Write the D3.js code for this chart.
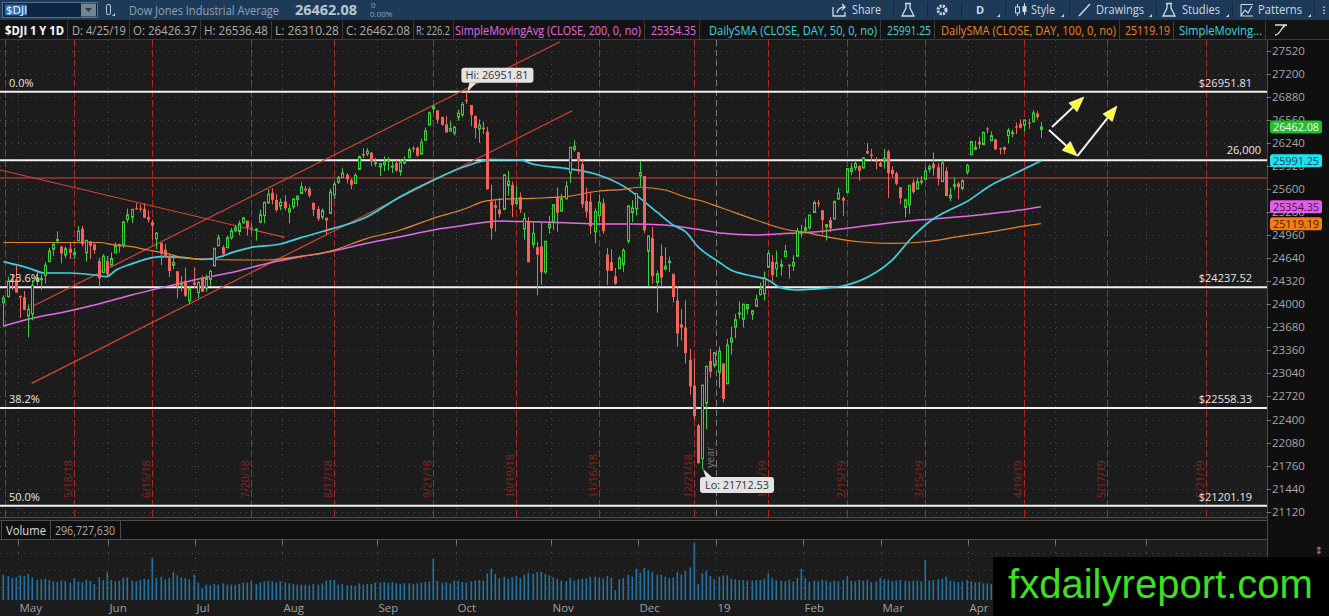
<!DOCTYPE html>
<html>
<head>
<meta charset="utf-8">
<title>$DJI 1 Y 1D</title>
<script src="https://cdn.jsdelivr.net/npm/d3@7/dist/d3.min.js"></script>
<style>
  html, body { margin: 0; padding: 0; background: #1d1d1d; overflow: hidden; }
  svg { display: block; font-family: "Open Sans", "DejaVu Sans", sans-serif; }
</style>
</head>
<body>
<svg id="chart" width="1329" height="616"></svg>
<script>
'use strict';

// ---------- data ----------
// date, open, high, low, close
const candles = [
  ['4/25/18',24024,24122,23680,24084],['4/26/18',24107,24380,24088,24322],['4/27/18',24343,24415,24199,24311],['4/30/18',24347,24540,24164,24163],
  ['5/1/18',24117,24117,23808,24099],['5/2/18',24097,24186,23916,23925],['5/3/18',23836,23996,23540,23930],['5/4/18',23866,24333,23778,24263],
  ['5/7/18',24317,24480,24263,24357],['5/8/18',24341,24412,24198,24360],['5/9/18',24399,24586,24288,24543],['5/10/18',24591,24784,24591,24740],
  ['5/11/18',24761,24850,24672,24831],['5/14/18',24885,25012,24842,24899],['5/15/18',24800,24810,24569,24706],['5/16/18',24683,24803,24645,24769],
  ['5/17/18',24770,24860,24627,24714],['5/18/18',24690,24779,24628,24715],['5/21/18',24883,25086,24883,25013],['5/22/18',25048,25086,24800,24834],
  ['5/23/18',24713,24894,24590,24887],['5/24/18',24876,24878,24626,24812],['5/25/18',24832,24842,24700,24753],['5/29/18',24600,24646,24241,24361],
  ['5/30/18',24440,24695,24440,24668],['5/31/18',24603,24669,24387,24416],
  ['6/1/18',24542,24720,24542,24635],['6/4/18',24714,24857,24714,24814],['6/5/18',24832,24843,24718,24800],['6/6/18',24828,25147,24780,25146],
  ['6/7/18',25176,25327,25131,25241],['6/8/18',25207,25317,25126,25317],['6/11/18',25332,25402,25309,25322],['6/12/18',25330,25384,25284,25321],
  ['6/13/18',25323,25400,25195,25201],['6/14/18',25213,25306,25133,25175],['6/15/18',25140,25175,24889,25090],['6/18/18',24910,25003,24763,24987],
  ['6/19/18',24853,24853,24544,24700],['6/20/18',24757,24836,24642,24658],['6/21/18',24663,24704,24379,24462],['6/22/18',24542,24674,24484,24581],
  ['6/25/18',24458,24459,24084,24253],['6/26/18',24278,24394,24178,24283],['6/27/18',24325,24509,24101,24118],['6/28/18',24047,24240,23997,24216],
  ['6/29/18',24302,24510,24223,24271],
  ['7/2/18',24161,24308,24083,24307],['7/3/18',24362,24398,24167,24175],['7/5/18',24221,24414,24175,24357],['7/6/18',24345,24480,24256,24456],
  ['7/9/18',24532,24786,24532,24777],['7/10/18',24811,24968,24811,24920],['7/11/18',24793,24818,24660,24700],['7/12/18',24784,24952,24784,24925],
  ['7/13/18',24924,25058,24896,25019],['7/16/18',25023,25099,24999,25064],['7/17/18',25010,25163,24957,25120],['7/18/18',25130,25213,25121,25199],
  ['7/19/18',25160,25160,24954,25065],['7/20/18',25066,25127,24985,25058],['7/23/18',25029,25059,24885,25044],['7/24/18',25141,25315,25126,25242],
  ['7/25/18',25231,25427,25123,25414],['7/26/18',25405,25593,25399,25527],['7/27/18',25546,25611,25386,25451],['7/30/18',25448,25529,25286,25307],
  ['7/31/18',25362,25468,25305,25415],
  ['8/1/18',25426,25515,25303,25334],['8/2/18',25281,25386,25123,25326],['8/3/18',25355,25463,25322,25463],['8/6/18',25456,25506,25356,25502],
  ['8/7/18',25538,25692,25538,25629],['8/8/18',25605,25645,25553,25584],['8/9/18',25603,25631,25480,25509],['8/10/18',25409,25409,25225,25313],
  ['8/13/18',25323,25364,25157,25188],['8/14/18',25210,25329,25175,25300],['8/15/18',25201,25201,24966,25162],['8/16/18',25262,25605,25262,25559],
  ['8/17/18',25520,25708,25460,25669],['8/20/18',25697,25781,25669,25759],['8/21/18',25758,25888,25758,25822],['8/22/18',25799,25819,25677,25734],
  ['8/23/18',25723,25744,25596,25657],['8/24/18',25676,25820,25676,25790],['8/27/18',25871,26064,25871,26050],['8/28/18',26087,26167,26031,26064],
  ['8/29/18',26088,26167,26054,26125],['8/30/18',26103,26116,25919,25987],['8/31/18',25958,26031,25912,25965],
  ['9/4/18',25906,25960,25781,25952],['9/5/18',25936,26055,25846,25975],['9/6/18',25993,26044,25857,25996],['9/7/18',25903,25994,25821,25917],
  ['9/10/18',25959,26004,25836,25857],['9/11/18',25843,26012,25783,25971],['9/12/18',25960,26052,25941,25999],['9/13/18',26036,26175,26036,26146],
  ['9/14/18',26167,26196,26111,26155],['9/17/18',26172,26189,26048,26062],['9/18/18',26084,26297,26084,26247],['9/19/18',26277,26453,26277,26406],
  ['9/20/18',26487,26676,26487,26657],['9/21/18',26715,26770,26657,26744],['9/24/18',26692,26692,26507,26562],['9/25/18',26599,26603,26479,26492],
  ['9/26/18',26498,26611,26386,26385],['9/27/18',26405,26541,26400,26440],['9/28/18',26378,26475,26346,26458],
  ['10/1/18',26598,26700,26546,26651],['10/2/18',26630,26806,26602,26774],['10/3/18',26833,26951.81,26782,26828],['10/4/18',26766,26766,26471,26627],
  ['10/5/18',26613,26620,26303,26447],['10/8/18',26434,26567,26239,26487],['10/9/18',26452,26537,26363,26431],['10/10/18',26396,26461,25594,25599],
  ['10/11/18',25425,25658,24899,25053],['10/12/18',25374,25441,25010,25340],['10/15/18',25313,25477,25205,25251],['10/16/18',25318,25802,25318,25798],
  ['10/17/18',25650,25852,25509,25707],['10/18/18',25655,25705,25212,25379],['10/19/18',25400,25641,25373,25444],['10/22/18',25490,25551,25268,25317],
  ['10/23/18',25045,25271,24897,25191],['10/24/18',25153,25211,24582,24583],['10/25/18',24832,25134,24774,24985],['10/26/18',24791,24865,24123,24688],
  ['10/29/18',24804,25130,24268,24443],['10/30/18',24447,24877,24419,24875],['10/31/18',25061,25228,24978,25116],
  ['11/1/18',25142,25384,25029,25381],['11/2/18',25485,25620,25008,25271],['11/5/18',25294,25536,25286,25462],['11/6/18',25462,25709,25462,25635],
  ['11/7/18',25823,26181,25686,26180],['11/8/18',26150,26278,26118,26191],['11/9/18',26109,26117,25805,25989],['11/12/18',25944,26006,25335,25387],
  ['11/13/18',25434,25620,25201,25286],['11/14/18',25425,25563,24976,25081],['11/15/18',25005,25331,24848,25289],['11/16/18',25231,25519,25152,25413],
  ['11/19/18',25402,25467,24979,25017],['11/20/18',24689,24781,24269,24466],['11/21/18',24585,24762,24461,24465],['11/23/18',24386,24504,24272,24286],
  ['11/26/18',24495,24674,24491,24640],['11/27/18',24552,24776,24450,24749],['11/28/18',24875,25367,24847,25366],['11/29/18',25274,25444,25141,25339],
  ['11/30/18',25324,25539,25233,25538],
  ['12/3/18',25779,25980,25633,25826],['12/4/18',25780,25780,24983,25027],['12/6/18',24737,24947,24243,24947],['12/7/18',24918,25076,24284,24389],
  ['12/10/18',24303,24468,23881,24423],['12/11/18',24669,24830,24243,24370],['12/12/18',24490,24790,24470,24527],['12/13/18',24580,24660,24445,24597],
  ['12/14/18',24423,24423,24024,24101],['12/17/18',24052,24241,23410,23593],['12/18/18',23720,23931,23497,23676],['12/19/18',23675,24054,23177,23324],
  ['12/20/18',23225,23383,22746,22860],['12/21/18',22871,23254,22396,22445],['12/24/18',22317,22339,21792,21792],['12/26/18',21858,22879,21712.53,22878],
  ['12/27/18',22629,23139,22267,23139],['12/28/18',23213,23382,22982,23062],['12/31/18',23154,23333,23118,23327],
  ['1/2/19',23059,23413,22839,23346],['1/3/19',23177,23177,22638,22686],['1/4/19',22894,23518,22894,23433],['1/7/19',23474,23688,23301,23531],
  ['1/8/19',23681,23865,23528,23787],['1/9/19',23864,24040,23800,23879],['1/10/19',23792,24002,23677,24002],['1/11/19',23941,24002,23862,23996],
  ['1/14/19',23866,23920,23784,23910],['1/15/19',23973,24134,23965,24066],['1/16/19',24133,24302,24122,24207],['1/17/19',24142,24455,24051,24370],
  ['1/18/19',24512,24750,24512,24706],['1/22/19',24590,24683,24317,24404],['1/23/19',24495,24744,24377,24576],['1/24/19',24526,24617,24397,24553],
  ['1/25/19',24662,24826,24662,24737],['1/28/19',24549,24549,24354,24528],['1/29/19',24532,24681,24463,24580],['1/30/19',24666,25060,24666,25015],
  ['1/31/19',24995,25106,24929,25000],
  ['2/1/19',25025,25193,24982,25064],['2/4/19',25063,25239,25027,25239],['2/5/19',25275,25441,25275,25412],['2/6/19',25409,25446,25346,25390],
  ['2/7/19',25305,25305,24977,25170],['2/8/19',25075,25106,24884,25106],['2/11/19',25170,25211,25001,25053],['2/12/19',25183,25440,25183,25426],
  ['2/13/19',25459,25618,25459,25543],['2/14/19',25476,25497,25224,25439],['2/15/19',25552,25883,25552,25883],['2/19/19',25845,25959,25792,25891],
  ['2/20/19',25895,25996,25857,25954],['2/21/19',25921,25926,25716,25851],['2/22/19',25891,26040,25890,26032],['2/25/19',26127,26241,26084,26092],
  ['2/26/19',26077,26156,25986,26058],['2/27/19',25990,26045,25873,25985],['2/28/19',25961,26006,25904,25916],
  ['3/1/19',25983,26156,25884,26026],['3/4/19',26123,26143,25477,25820],['3/5/19',25868,25916,25760,25807],['3/6/19',25817,25839,25652,25673],
  ['3/7/19',25624,25624,25390,25473],['3/8/19',25345,25468,25208,25450],['3/11/19',25380,25651,25252,25651],['3/12/19',25690,25733,25537,25555],
  ['3/13/19',25600,25753,25600,25703],['3/14/19',25700,25779,25661,25710],['3/15/19',25735,25905,25735,25849],['3/18/19',25873,25942,25829,25914],
  ['3/19/19',25949,26109,25788,25887],['3/20/19',25902,25963,25648,25746],['3/21/19',25704,26000,25704,25963],['3/22/19',25850,25902,25500,25502],
  ['3/25/19',25477,25618,25429,25517],['3/26/19',25639,25762,25587,25658],['3/27/19',25676,25702,25459,25626],['3/28/19',25607,25733,25582,25717],
  ['3/29/19',25835,25949,25797,25929],
  ['4/1/19',26076,26264,26076,26258],['4/2/19',26150,26268,26140,26179],['4/3/19',26256,26325,26159,26218],['4/4/19',26218,26399,26210,26385],
  ['4/5/19',26440,26460,26373,26425],['4/8/19',26270,26402,26263,26341],['4/9/19',26287,26294,26137,26151],['4/10/19',26167,26175,26079,26157],
  ['4/11/19',26183,26187,26085,26143],['4/12/19',26340,26445,26236,26412],['4/15/19',26372,26424,26319,26385],['4/16/19',26470,26522,26363,26453],
  ['4/17/19',26507,26564,26438,26450],['4/18/19',26486,26560,26402,26560],['4/22/19',26524,26574,26435,26511],['4/23/19',26533,26696,26533,26656],
  ['4/24/19',26647,26683,26566,26597],['4/25/19',26426.37,26536.48,26310.28,26462.08]
];

// daily volume, millions (same order as candles)
const volumes = [
  380,360,330,340,
  370,360,390,340,300,310,320,300,280,270,290,280,260,330,280,270,300,290,240,340,300,420,
  300,280,290,330,340,290,280,300,320,310,640,330,350,310,330,420,370,340,330,310,380,
  260,180,230,220,240,230,250,230,230,230,240,260,260,290,240,260,280,290,280,260,280,
  260,250,240,230,230,230,220,240,230,250,290,300,300,230,240,220,220,210,250,230,240,240,260,
  260,270,260,270,250,240,250,250,240,250,260,270,280,620,290,260,270,250,290,
  290,270,260,280,290,300,290,400,470,390,330,350,320,340,360,330,380,410,390,420,420,390,370,
  340,320,290,280,330,290,310,320,320,350,350,340,320,360,330,150,310,330,380,350,470,
  410,480,450,420,380,380,350,330,340,420,380,430,490,860,240,400,440,360,310,
  350,370,370,320,310,300,300,290,290,300,300,320,400,330,300,290,280,300,280,330,470,
  330,270,290,280,300,290,270,290,280,300,360,290,280,300,290,300,270,280,330,
  310,300,280,290,300,290,280,290,290,280,600,290,300,310,320,350,290,280,270,280,300,
  280,260,270,250,250,240,240,230,240,250,250,260,270,300,230,260,270,297
];

// moving averages
const sma50 = [
  ['4/25/18',24591],['5/3/18',24503],['5/9/18',24434],['5/17/18',24434],['5/25/18',24406],['5/31/18',24383],['6/4/18',24466],
  ['6/8/18',24560],['6/19/18',24660],['6/26/18',24652],['7/3/18',24624],['7/9/18',24638],['7/16/18',24730],['7/20/18',24790],
  ['7/31/18',24836],['8/7/18',24925],['8/14/18',25007],['8/29/18',25215],['9/11/18',25493],['9/21/18',25725],['10/3/18',25919],
  ['10/11/18',26008],['10/22/18',26003],['10/25/18',25947],['11/6/18',25887],['11/16/18',25794],['11/27/18',25640],['12/10/18',25285],
  ['12/14/18',25100],['12/19/18',25007],['12/24/18',24800],['1/2/19',24590],['1/7/19',24475],['1/11/19',24406],['1/18/19',24336],
  ['1/24/19',24230],['1/30/19',24198],['2/5/19',24210],['2/15/19',24267],['2/26/19',24406],['3/5/19',24614],['3/12/19',24938],
  ['3/18/19',25146],['3/22/19',25285],['3/29/19',25424],['4/8/19',25655],['4/15/19',25794],['4/25/19',25991.25]
];
const sma100 = [
  ['4/25/18',24857],['5/29/18',24857],['6/4/18',24823],['6/8/18',24799],['6/14/18',24753],['6/21/18',24697],['6/26/18',24652],
  ['7/3/18',24628],['7/17/18',24614],['7/26/18',24614],['8/7/18',24670],['8/14/18',24707],['8/17/18',24753],['8/29/18',24914],
  ['9/11/18',25031],['9/21/18',25193],['10/3/18',25332],['10/9/18',25424],['10/15/18',25457],['10/25/18',25471],['11/6/18',25493],
  ['11/16/18',25572],['11/27/18',25596],['12/3/18',25624],['12/12/18',25586],['12/20/18',25471],['12/24/18',25447],['1/3/19',25332],
  ['1/15/19',25170],['1/28/19',25031],['1/31/19',25007],['2/8/19',24938],['2/21/19',24868],['3/5/19',24846],['3/15/19',24868],
  ['3/27/19',24938],['4/8/19',25007],['4/17/19',25077],['4/25/19',25119.19]
];
const sma200 = [
  ['4/25/18',23698],['5/4/18',23805],['5/16/18',23897],['5/29/18',24004],['6/8/18',24129],['6/21/18',24253],['7/3/18',24360],
  ['7/16/18',24452],['7/26/18',24568],['8/7/18',24660],['8/17/18',24743],['8/29/18',24846],['9/11/18',24937],['9/21/18',25031],
  ['10/3/18',25100],['10/15/18',25155],['10/25/18',25146],['11/6/18',25132],['11/16/18',25114],['11/29/18',25114],['12/12/18',25100],
  ['12/24/18',25040],['1/3/19',24985],['1/15/19',24962],['1/28/19',24985],['2/6/19',25007],['2/21/19',25077],['3/7/19',25146],
  ['3/21/19',25193],['4/3/19',25239],['4/17/19',25309],['4/25/19',25354.35]
];

const priceTicks = [21120,21440,21760,22080,22400,22720,23040,23360,23680,24000,24320,24640,24960,25280,25600,25920,26240,26560,26880,27200,27520];
const volumeTicks = [200, 450, 700];
const fibLevels = [['0.0%', 26951.81], ['23.6%', 24237.52], ['38.2%', 22558.33], ['50.0%', 21201.19]];
const roundLevel = 26000;
const redLevel = 25753;
const expirations = ['5/18/18','6/15/18','7/20/18','8/17/18','9/21/18','10/19/18','11/16/18','12/21/18','1/18/19','2/15/19','3/15/19','4/19/19','5/17/19','6/21/19'];
const months = [['5/1/18','May'],['6/1/18','Jun'],['7/2/18','Jul'],['8/1/18','Aug'],['9/4/18','Sep'],['10/1/18','Oct'],['11/1/18','Nov'],
  ['12/3/18','Dec'],['1/2/19','19'],['2/1/19','Feb'],['3/1/19','Mar'],['4/1/19','Apr'],['5/1/19','May'],['6/3/19','Jun']];
const holidays = ['4/19/19','5/27/19','7/4/19'];
// trend lines drawn on the chart: [bar index, price] -> [bar index, price]
const trendLines = [
  [[-0.84, 25864], [68.1, 24929]],
  [[6.83, 23966], [134.66, 27645]],
  [[6.83, 22902], [137.6, 26687]]
];
const arrows = [
  [[253.7, 26461], [261.4, 26877]],
  [[252.96, 26419], [259.8, 26058]],
  [[259.8, 26058], [269.4, 26752]]
];
const studies = [
  {name: 'SimpleMovingAvg (CLOSE, 200, 0, no)', value: '25354.35', color: '#e36be3', tag: '#e25fe4', tagText: '#4a1050', data: sma200, width: 1.5},
  {name: 'DailySMA (CLOSE, DAY, 50, 0, no)', value: '25991.25', color: '#3fd3df', tag: '#1de3f1', tagText: '#0c3c55', data: sma50, width: 1.7},
  {name: 'DailySMA (CLOSE, DAY, 100, 0, no)', value: '25119.19', color: '#e9862a', tag: '#f07c12', tagText: '#3e1c00', data: sma100, width: 1.2}
];
const quote = {symbol: '$DJI', name: 'Dow Jones Industrial Average', last: '26462.08', change: '0', pct: '0.00%', volume: '296,727,630', range: '226.2', date: '4/25/19'};

// ---------- setup ----------
const W = 1329, H = 616;
const plot = {left: 0, right: 1267, top: 40, bottom: 517};
const volPanel = {top: 540, bottom: 600};
const parse = d3.timeParse('%m/%d/%y');
const fmt = d3.timeFormat('%-m/%-d/%y');

const bars = candles.map((c, i) => ({i: i, date: parse(c[0]), o: c[1], h: c[2], l: c[3], c: c[4], v: volumes[i]}));

// trading calendar: the bars plus business days to the right edge
const tradingDays = bars.map(b => b.date);
const holidaySet = new Set(holidays);
let day = d3.timeDay.offset(tradingDays[tradingDays.length - 1], 1);
while (tradingDays.length < 320) {
  const wd = day.getDay();
  if (wd !== 0 && wd !== 6 && !holidaySet.has(fmt(day))) tradingDays.push(day);
  day = d3.timeDay.offset(day, 1);
}
function idxOf(str) {
  return d3.bisectRight(tradingDays, parse(str)) - 1;
}

const x = d3.scaleLinear().domain([-0.84, 305.7]).range([plot.left, plot.right]);
const y = d3.scaleLinear().domain([21120, 27520]).range([511.7, 50.7]);
const yv = d3.scaleLinear().domain([0, 900]).range([volPanel.bottom, volPanel.top]);

const svg = d3.select('#chart');
const defs = svg.append('defs');
defs.append('clipPath').attr('id', 'priceClip').append('rect')
  .attr('x', plot.left).attr('y', plot.top).attr('width', plot.right - plot.left).attr('height', plot.bottom - plot.top);
defs.append('clipPath').attr('id', 'volClip').append('rect')
  .attr('x', plot.left).attr('y', volPanel.top).attr('width', plot.right - plot.left).attr('height', volPanel.bottom - volPanel.top);

// ---------- backgrounds ----------
svg.append('rect').attr('width', W).attr('height', H).attr('fill', '#1c1c1c');
svg.append('rect').attr('x', plot.right).attr('y', 40).attr('width', W - plot.right).attr('height', H - 40).attr('fill', '#0f0f0f');
svg.append('line').attr('x1', plot.right + 0.5).attr('x2', plot.right + 0.5).attr('y1', 40).attr('y2', 600).attr('stroke', '#4a4a4a');

// ---------- grid ----------
const grid = svg.append('g').attr('stroke', '#4d4d4d').attr('stroke-dasharray', '1,5');
grid.selectAll('line.h').data(priceTicks).join('line')
  .attr('x1', plot.left).attr('x2', plot.right)
  .attr('y1', d => Math.round(y(d)) + 0.5).attr('y2', d => Math.round(y(d)) + 0.5);
const monthX = d => Math.round(x(idxOf(d[0]) - 0.6)) + 0.5;
grid.selectAll('line.v').data(months).join('line')
  .attr('x1', monthX).attr('x2', monthX).attr('y1', plot.top).attr('y2', plot.bottom);
grid.selectAll('line.vv').data(months).join('line')
  .attr('x1', monthX).attr('x2', monthX).attr('y1', volPanel.top).attr('y2', volPanel.bottom);
grid.selectAll('line.hv').data(volumeTicks).join('line')
  .attr('x1', plot.left).attr('x2', plot.right)
  .attr('y1', d => Math.round(yv(d)) + 0.5).attr('y2', d => Math.round(yv(d)) + 0.5);

// ---------- price panel ----------
const pg = svg.append('g').attr('clip-path', 'url(#priceClip)');

// expiration markers
const expX = d => Math.round(x(idxOf(d))) + 0.5;
pg.append('line').attr('x1', 5.5).attr('x2', 5.5).attr('y1', plot.top).attr('y2', plot.bottom)
  .attr('stroke', '#a82a2a').attr('stroke-dasharray', '7,3');
pg.selectAll('line.exp').data(expirations).join('line')
  .attr('x1', expX).attr('x2', expX).attr('y1', plot.top).attr('y2', plot.bottom)
  .attr('stroke', '#a82a2a').attr('stroke-width', 1).attr('stroke-dasharray', '7,3');
pg.selectAll('text.exp').data(expirations).join('text')
  .attr('transform', d => `translate(${expX(d) - 3},498) rotate(-90)`)
  .attr('fill', '#8f2222').attr('font-size', 10.5).text(d => d);

// year separator
const yearX = Math.round(x(idxOf('1/2/19') - 0.5)) + 0.5;
pg.append('line').attr('x1', yearX).attr('x2', yearX).attr('y1', plot.top).attr('y2', plot.bottom)
  .attr('stroke', '#7a7a7a').attr('stroke-dasharray', '6,4');
pg.append('text').attr('transform', `translate(${yearX - 3},468) rotate(-90)`)
  .attr('fill', '#777').attr('font-size', 10.5).text('year');

// horizontal levels
pg.append('line').attr('x1', plot.left).attr('x2', plot.right)
  .attr('y1', y(redLevel)).attr('y2', y(redLevel)).attr('stroke', '#e0403a').attr('stroke-width', 1.2);
pg.selectAll('line.fib').data(fibLevels.map(d => d[1]).concat([roundLevel])).join('line')
  .attr('x1', plot.left).attr('x2', plot.right)
  .attr('y1', d => y(d)).attr('y2', d => y(d)).attr('stroke', '#f2f2f2').attr('stroke-width', 2);

// trend lines
pg.selectAll('line.trend').data(trendLines).join('line')
  .attr('x1', d => x(d[0][0])).attr('y1', d => y(d[0][1]))
  .attr('x2', d => x(d[1][0])).attr('y2', d => y(d[1][1]))
  .attr('stroke', '#d9443c').attr('stroke-width', 1.2);

// moving averages
const maLine = d3.line().x(d => x(idxOf(d[0]))).y(d => y(d[1])).curve(d3.curveMonotoneX);
pg.selectAll('path.ma').data(studies).join('path')
  .attr('d', d => maLine(d.data)).attr('fill', 'none')
  .attr('stroke', d => d.color).attr('stroke-width', d => d.width);

// candles
const up = '#3bcf3b', down = '#f2655f';
const cx = d => Math.round(x(d.i)) + 0.5;
pg.selectAll('line.wick').data(bars).join('line')
  .attr('x1', cx).attr('x2', cx).attr('y1', d => y(d.h)).attr('y2', d => y(d.l))
  .attr('stroke', d => d.c >= d.o ? up : down).attr('stroke-width', 1);
pg.selectAll('rect.body').data(bars).join('rect')
  .attr('x', d => d.c >= d.o ? cx(d) - 1 : cx(d) - 1.5)
  .attr('y', d => y(Math.max(d.o, d.c)))
  .attr('width', d => d.c >= d.o ? 2 : 3)
  .attr('height', d => Math.max(1, Math.abs(y(d.o) - y(d.c))))
  .attr('fill', d => d.c >= d.o ? '#1c1c1c' : down)
  .attr('stroke', d => d.c >= d.o ? up : 'none').attr('stroke-width', 1);

// high / low bubbles
const hiBar = bars.reduce((a, b) => b.h > a.h ? b : a);
const loBar = bars.reduce((a, b) => b.l < a.l ? b : a);
const hx = x(hiBar.i), hy = y(hiBar.h);
const hiG = svg.append('g');
hiG.append('path').attr('d', `M${hx + 1},${hy} L${hx + 3},${hy - 9} L${hx + 10},${hy - 9} Z`).attr('fill', '#e4e4e4');
hiG.append('rect').attr('x', hx - 5).attr('y', hy - 24).attr('width', 72).attr('height', 15).attr('rx', 3).attr('fill', '#e4e4e4');
hiG.append('text').attr('x', hx - 1).attr('y', hy - 12.5).attr('font-size', 11).attr('fill', '#333')
  .attr('textLength', 63).attr('lengthAdjust', 'spacingAndGlyphs').text('Hi: ' + d3.format('.2f')(hiBar.h));
const lx = x(loBar.i), ly = y(loBar.l);
const loG = svg.append('g');
loG.append('path').attr('d', `M${lx + 1},${ly} L${lx + 4},${ly + 9} L${lx + 11},${ly + 9} Z`).attr('fill', '#e4e4e4');
loG.append('rect').attr('x', lx - 2).attr('y', ly + 8).attr('width', 74).attr('height', 16).attr('rx', 3).attr('fill', '#e4e4e4');
loG.append('text').attr('x', lx + 3).attr('y', ly + 20).attr('font-size', 11).attr('fill', '#333')
  .attr('textLength', 64).attr('lengthAdjust', 'spacingAndGlyphs').text('Lo: ' + d3.format('.2f')(loBar.l));

// arrows
const ag = svg.append('g');
arrows.forEach(a => {
  const x1 = x(a[0][0]), y1 = y(a[0][1]), x2 = x(a[1][0]), y2 = y(a[1][1]);
  const ang = Math.atan2(y2 - y1, x2 - x1);
  const L = 15, hw = 6;
  const bx = x2 - L * Math.cos(ang), by = y2 - L * Math.sin(ang);
  ag.append('line').attr('x1', x1).attr('y1', y1).attr('x2', bx).attr('y2', by)
    .attr('stroke', '#f4f4f4').attr('stroke-width', 2);
  ag.append('path')
    .attr('d', `M${x2},${y2} L${bx + hw * Math.sin(ang)},${by - hw * Math.cos(ang)} L${bx - hw * Math.sin(ang)},${by + hw * Math.cos(ang)} Z`)
    .attr('fill', '#ffff3a').attr('stroke', '#ffffff').attr('stroke-width', 0.6);
});

// level labels
const lab = svg.append('g').attr('font-size', 11).attr('fill', '#e6e6e6');
lab.selectAll('text.pct').data(fibLevels).join('text')
  .attr('x', 9).attr('y', d => y(d[1]) - 5).text(d => d[0]);
lab.selectAll('text.pv').data(fibLevels).join('text')
  .attr('x', 1252).attr('y', d => y(d[1]) - 5).attr('text-anchor', 'end').text(d => '$' + d3.format('.2f')(d[1]));
lab.append('text').attr('x', 1261).attr('y', y(roundLevel) - 6).attr('text-anchor', 'end').text(d3.format(',')(roundLevel));

// ---------- right price axis ----------
const ax = svg.append('g').attr('font-size', 11.5).attr('fill', '#a6a6a6');
ax.selectAll('line').data(priceTicks).join('line')
  .attr('x1', plot.right).attr('x2', plot.right + 4)
  .attr('y1', d => Math.round(y(d)) + 0.5).attr('y2', d => Math.round(y(d)) + 0.5).attr('stroke', '#777');
ax.selectAll('text').data(priceTicks).join('text')
  .attr('x', plot.right + 5).attr('y', d => y(d) + 4).text(d => d);

const tags = [{value: quote.last, bg: '#20c02c', fg: '#ffffff'}].concat(studies.map(s => ({value: s.value, bg: s.tag, fg: s.tagText})));
const tg = svg.append('g');
tags.forEach(t => {
  const ty = y(+t.value);
  tg.append('rect').attr('x', plot.right + 3).attr('y', ty - 6.5).attr('width', 52).attr('height', 13).attr('rx', 2.5).attr('fill', t.bg);
  tg.append('text').attr('x', plot.right + 29).attr('y', ty + 4).attr('text-anchor', 'middle')
    .attr('font-size', 11.5).attr('fill', t.fg).attr('textLength', 46).attr('lengthAdjust', 'spacingAndGlyphs').text(t.value);
});

// ---------- volume panel ----------
svg.append('line').attr('x1', 0).attr('x2', plot.right).attr('y1', 517.5).attr('y2', 517.5).attr('stroke', '#4c4c4c');
svg.append('rect').attr('x', 0).attr('y', 520).attr('width', plot.right).attr('height', 20).attr('fill', '#101010');
svg.append('line').attr('x1', 0).attr('x2', plot.right).attr('y1', 520.5).attr('y2', 520.5).attr('stroke', '#4c4c4c');
svg.append('line').attr('x1', 0).attr('x2', plot.right).attr('y1', 539.5).attr('y2', 539.5).attr('stroke', '#4c4c4c');
[1.5, 50.5, 120.5].forEach(v => svg.append('line').attr('x1', v).attr('x2', v).attr('y1', 521).attr('y2', 539).attr('stroke', '#4c4c4c'));
svg.append('text').attr('x', 6).attr('y', 534.5).attr('font-size', 12).attr('fill', '#dddddd')
  .attr('textLength', 40).attr('lengthAdjust', 'spacingAndGlyphs').text('Volume');
svg.append('text').attr('x', 55).attr('y', 534.5).attr('font-size', 12).attr('fill', '#a8a8a8')
  .attr('textLength', 60).attr('lengthAdjust', 'spacingAndGlyphs').text(quote.volume);
svg.selectAll('line.vtick').data(months).join('line')
  .attr('x1', monthX).attr('x2', monthX).attr('y1', 540).attr('y2', 545).attr('stroke', '#777');

svg.append('g').attr('clip-path', 'url(#volClip)')
  .selectAll('rect').data(bars).join('rect')
  .attr('x', d => Math.round(x(d.i)) - 0.5).attr('y', d => yv(d.v))
  .attr('width', 1.6).attr('height', d => yv(0) - yv(d.v)).attr('fill', '#23729f');
svg.append('text').attr('x', 1319).attr('y', 554).attr('text-anchor', 'middle').attr('font-size', 10).attr('fill', '#999').text('\u21D5');

// month labels
svg.selectAll('text.month').data(months).join('text')
  .attr('x', d => monthX(d) + 1).attr('y', 612).attr('font-size', 11.5).attr('fill', '#a0a0a0').text(d => d[1]);

// watermark
svg.append('rect').attr('x', 993).attr('y', 557).attr('width', W - 993).attr('height', H - 557).attr('fill', '#000');
svg.append('text').attr('x', 1008).attr('y', 598).attr('font-family', '"Liberation Sans", Arial, sans-serif')
  .attr('font-size', 40).attr('fill', '#3ddf20').attr('textLength', 305).attr('lengthAdjust', 'spacingAndGlyphs')
  .text('fxdailyreport.com');

// ---------- header row ----------
svg.append('rect').attr('x', 0).attr('y', 20).attr('width', W).attr('height', 20).attr('fill', '#131313');
svg.append('line').attr('x1', 0).attr('x2', W).attr('y1', 39.5).attr('y2', 39.5).attr('stroke', '#3a3a3a');
const last = bars[bars.length - 1];
const headerCells = [
  {text: quote.symbol + ' 1 Y 1D', color: '#ffffff', bold: true},
  {text: 'D: ' + quote.date, color: '#aeaeae'},
  {text: 'O: ' + d3.format('.2f')(last.o), color: '#aeaeae'},
  {text: 'H: ' + d3.format('.2f')(last.h), color: '#aeaeae'},
  {text: 'L: ' + d3.format('.2f')(last.l), color: '#aeaeae'},
  {text: 'C: ' + d3.format('.2f')(last.c), color: '#aeaeae'},
  {text: 'R: ' + quote.range, color: '#aeaeae'}
];
studies.forEach(s => { headerCells.push({text: s.name, color: s.color}); headerCells.push({text: s.value, color: s.color}); });
headerCells.push({text: 'SimpleMoving...', color: '#3fd3df'});
const headerLayout = [[5, 59], [72, 54], [133, 64], [204, 64], [275, 64], [346, 64], [416, 34], [455, 186],
  [651, 45], [709, 168], [887, 44], [941, 175], [1125, 45], [1179, 83]];
const hg = svg.append('g');
headerCells.forEach((c, k) => {
  const [hx0, hw] = headerLayout[k];
  hg.append('text').attr('x', hx0).attr('y', 34.5).attr('font-size', 12)
    .attr('font-weight', c.bold ? 700 : 400).attr('fill', c.color)
    .attr('textLength', hw).attr('lengthAdjust', 'spacingAndGlyphs').text(c.text);
  const dx = Math.round(hx0 + hw + 3) + 0.5;
  hg.append('line').attr('x1', dx).attr('x2', dx).attr('y1', 21).attr('y2', 39).attr('stroke', '#3c3c3c');
});
hg.append('path').attr('d', 'M1275,35 C1281,35 1281,25 1287,25 M1275,25 L1287,25').attr('fill', 'none')
  .attr('stroke', '#e0e0e0').attr('stroke-width', 1.3);

// ---------- toolbar ----------
const tb = svg.append('g');
tb.append('rect').attr('width', W).attr('height', 20).attr('fill', '#1d3b58');
tb.append('rect').attr('x', 2.5).attr('y', 2.5).attr('width', 95).attr('height', 15).attr('fill', '#0d2742').attr('stroke', '#557594');
tb.append('rect').attr('x', 5).attr('y', 4.5).attr('width', 22).attr('height', 11).attr('fill', '#2c6aab');
tb.append('text').attr('x', 6).attr('y', 14).attr('font-size', 11.5).attr('fill', '#ffffff').text(quote.symbol);
tb.append('rect').attr('x', 81).attr('y', 3.5).attr('width', 15).attr('height', 13).attr('fill', '#76858f');
tb.append('path').attr('d', 'M85,8 L92,8 L88.5,12 Z').attr('fill', '#2b3944');
tb.append('rect').attr('x', 106.5).attr('y', 4.5).attr('width', 4).attr('height', 10).attr('rx', 1.5).attr('fill', 'none').attr('stroke', '#b7c3cf');
tb.append('path').attr('d', 'M112,16 l3,0 l0,-3 z').attr('fill', '#b7c3cf');
tb.append('text').attr('x', 129).attr('y', 14.5).attr('font-size', 12).attr('fill', '#8ea4b9')
  .attr('textLength', 150).attr('lengthAdjust', 'spacingAndGlyphs').text(quote.name);
tb.append('text').attr('x', 295).attr('y', 15).attr('font-size', 14).attr('font-weight', 700).attr('fill', '#b8c6d4')
  .attr('textLength', 62).attr('lengthAdjust', 'spacingAndGlyphs').text(quote.last);
tb.append('text').attr('x', 371).attr('y', 8).attr('font-size', 8).attr('fill', '#8ea4b9').text(quote.change);
tb.append('text').attr('x', 370).attr('y', 17).attr('font-size', 8).attr('fill', '#8ea4b9').text(quote.pct);

const tbText = '#cfd9e3';
const toolLabels = [['Share', 852, 29], ['Style', 1031, 24], ['Drawings', 1096, 48], ['Studies', 1182, 38], ['Patterns', 1258, 44]];
toolLabels.forEach(t => tb.append('text').attr('x', t[1]).attr('y', 14).attr('font-size', 12).attr('fill', tbText)
  .attr('textLength', t[2]).attr('lengthAdjust', 'spacingAndGlyphs').text(t[0]));
tb.append('text').attr('x', 976).attr('y', 14).attr('font-size', 11).attr('font-weight', 700).attr('fill', tbText).text('D');
[893, 927, 961, 1005, 1069, 1156, 1232, 1314].forEach(v => tb.append('line').attr('x1', v + 0.5).attr('x2', v + 0.5)
  .attr('y1', 2).attr('y2', 18).attr('stroke', '#112a42'));
[997, 1061, 1149, 1226, 1308].forEach(v => tb.append('path').attr('d', `M${v},17 l3,0 l0,-3 z`).attr('fill', tbText));
// icons
tb.append('path').attr('d', 'M833,7 v9 h12 v-4 M837,13 C838,8 841,7 845,7 M842,4 l3,3 l-3,3').attr('fill', 'none')
  .attr('stroke', tbText).attr('stroke-width', 1.3);
const flask = (fx) => `M${fx - 3},3.5 h6 M${fx - 2},4 v4 l-4,8 h12 l-4,-8 v-4`;
tb.append('path').attr('d', flask(908)).attr('fill', 'none').attr('stroke', tbText).attr('stroke-width', 1.3);
tb.append('path').attr('d', flask(1169)).attr('fill', 'none').attr('stroke', tbText).attr('stroke-width', 1.3);
tb.append('circle').attr('cx', 942).attr('cy', 10).attr('r', 4).attr('fill', 'none').attr('stroke', tbText)
  .attr('stroke-width', 3).attr('stroke-dasharray', '2,1.2');
tb.append('circle').attr('cx', 942).attr('cy', 10).attr('r', 1.5).attr('fill', '#1d3b58');
tb.append('path').attr('d', 'M1017.5,4 v12 M1024.5,3 v12').attr('stroke', tbText).attr('stroke-width', 1);
tb.append('rect').attr('x', 1015.5).attr('y', 7).attr('width', 4).attr('height', 6).attr('fill', '#1d3b58').attr('stroke', tbText);
tb.append('rect').attr('x', 1022.5).attr('y', 6).attr('width', 4).attr('height', 6).attr('fill', tbText);
tb.append('line').attr('x1', 1079).attr('y1', 16).attr('x2', 1090).attr('y2', 4).attr('stroke', tbText).attr('stroke-width', 1.5);
tb.append('path').attr('d', 'M1241,4.5 h12 M1241,16 l4,-6 l3,3 l4,-7 M1241,4.5 v11.5 h12').attr('fill', 'none')
  .attr('stroke', tbText).attr('stroke-width', 1.1);
tb.append('text').attr('x', 1322).attr('y', 14).attr('font-size', 12).attr('fill', tbText).text('\u205D');
</script>
</body>
</html>
